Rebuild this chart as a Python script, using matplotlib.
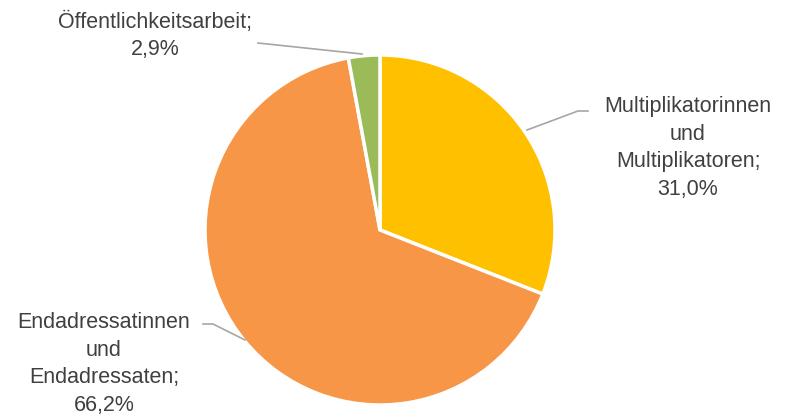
import matplotlib.pyplot as plt

labels = ["Multiplikatorinnen\nund\nMultiplikatoren", "Endadressatinnen\nund\nEndadressaten", "Öffentlichkeitsarbeit"]
values = [31.0, 66.2, 2.9]
colors = ["#FFC000", "#F79646", "#9BBB59"]

# label positions (pixel coords, y from top) and leader line points
text_pos = [(688, 148), (104, 364), (155, 36)]
leader = [[(588, 111), (578, 111), (527, 130)],
          [(203, 324), (213, 324), (245, 340)],
          [(258, 43), (362, 54)]]

plt.rcParams['font.family'] = ['Liberation Sans', 'DejaVu Sans']

H = 416
fig = plt.figure(figsize=(8, 4.16), dpi=100)
ax = fig.add_axes([0, 0, 1, 1])

wedges, _ = ax.pie(values, colors=colors, startangle=90, counterclock=False,
                   center=(380, H - 230), radius=175, frame=True,
                   wedgeprops=dict(edgecolor='white', linewidth=2.5))
ax.set_xlim(0, 800)
ax.set_ylim(0, H)
ax.set_aspect('equal')
ax.axis('off')

for lab, v, (tx, ty), pts in zip(labels, values, text_pos, leader):
    txt = lab + ";\n" + ("%.1f" % v).replace(".", ",") + "%"
    ax.text(tx, H - ty, txt, ha='center', va='center', fontsize=15.5,
            color='#404040', linespacing=1.42)
    xs = [p[0] for p in pts]
    ys = [H - p[1] for p in pts]
    ax.plot(xs, ys, color='#A6A6A6', lw=1.2)

fig.savefig("out.png", dpi=100)
